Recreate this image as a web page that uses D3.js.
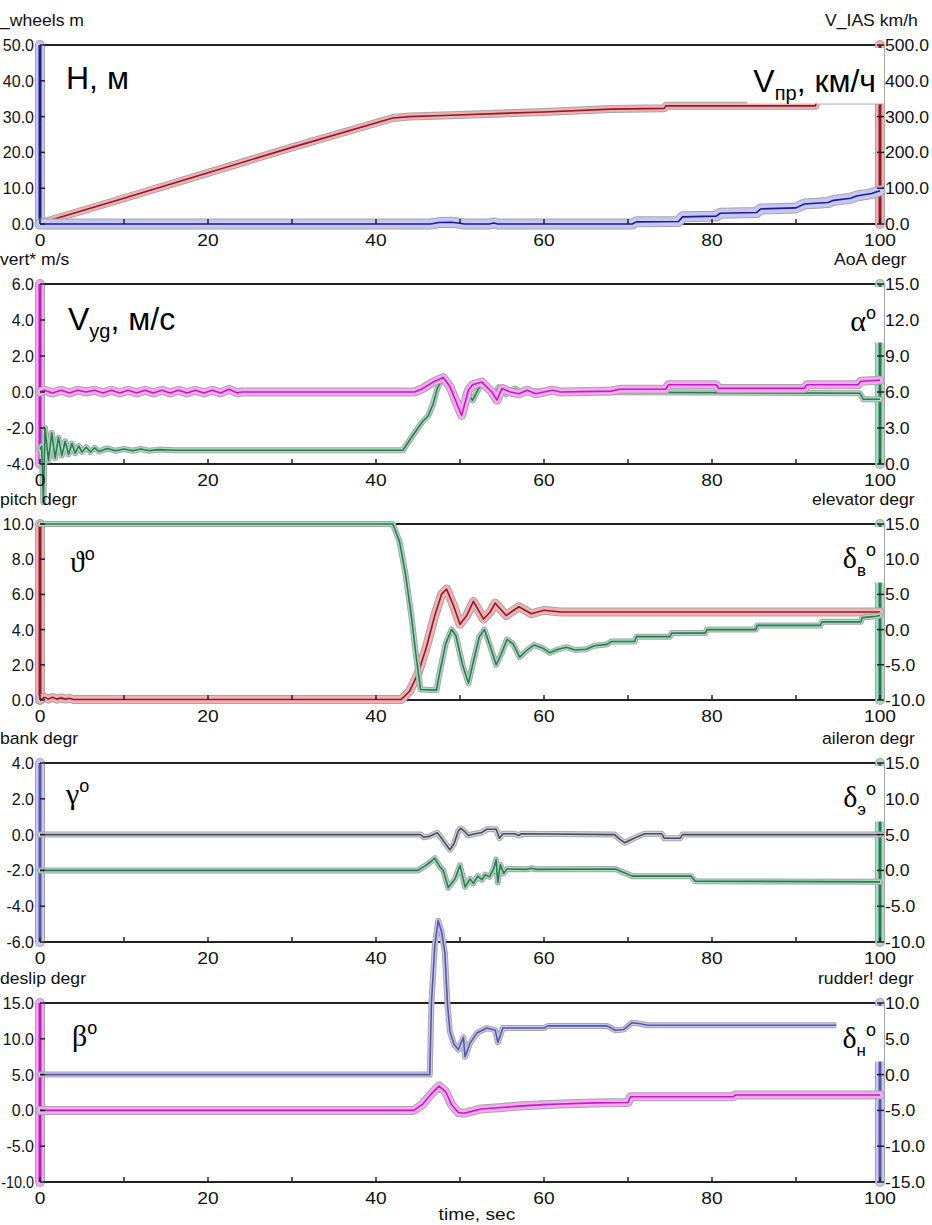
<!DOCTYPE html>
<html>
<head>
<meta charset="utf-8">
<style>
  body { margin: 0; background: #fff; }
  svg { display: block; overflow: hidden; }
  .tk { font-family: Arial, 'Liberation Sans', sans-serif; font-size: 16px; fill: #111; }
  .sans { font-family: Arial, 'Liberation Sans', sans-serif; font-size: 32px; fill: #000; }
  .serif { font-family: 'Liberation Serif', 'DejaVu Serif', serif; font-size: 30px; fill: #000; }
</style>
</head>
<body>
<svg width="932" height="1225"></svg>

<script src="https://d3js.org/d3.v7.min.js"></script>
<script>
// ---- time axis
const timeTicks = [0, 10, 20, 30, 40, 50, 60, 70, 80, 90, 100];
const timeLabels = [0, 20, 40, 60, 80, 100];

// ---- panel 1: H_wheels (m, left) and V_IAS (km/h, right)
const hTicks = [0, 10, 20, 30, 40, 50];
const vIasTicks = [0, 100, 200, 300, 400, 500];
const hWheels = [[0,0],[46.5,0],[47.5,0.4],[49,0.5],[50,0.2],[50.5,0],[53.5,0],[54,0.3],[54.5,0],[70.5,0],[71,0.6],[76,0.7],[76.5,2.0],[80.5,2.2],[81,3.0],[85.3,3.2],[85.8,4.2],[90,4.5],[91,5.6],[93.8,6.0],[94.5,6.6],[96.5,7.2],[97.2,7.8],[99,8.5],[100,9.3]];
const vIas = [[0,2],[10,72],[20,143],[30,214],[42,296],[44,300],[48,303],[55,309],[60,313],[68,321],[74.3,323],[74.5,330],[92.3,330],[92.5,345],[100,345]];

// ---- panel 2: vertical speed (m/s, left) and AoA (deg, right)
const vyTicks = [-4, -2, 0, 2, 4, 6];
const aoaTicks = [0, 3, 6, 9, 12, 15];
const vertSpeed = [[0,0],[0.5,0.1],[1.5,-0.05],[2.5,0.1],[3.5,-0.05],[4.5,0.1],[5.5,0],[6.5,0.1],[7.5,-0.05],[8.5,0.1],[9.5,-0.05],[10.5,0.1],[11.5,-0.05],[12.5,0.1],[13.5,-0.05],[14.5,0.1],[15.5,-0.05],[16.5,0.1],[17.5,-0.05],[18.5,0.1],[19.5,-0.05],[20.5,0.1],[21.5,-0.05],[22.5,0.15],[23.5,-0.05],[24,0],[44.6,0],[45.6,0.2],[46.8,0.55],[48,0.8],[48.8,0.3],[49.5,-0.5],[50.2,-1.3],[51,0.1],[51.5,0.4],[52.6,0.55],[53.8,0],[54.4,-0.45],[55,0.2],[56,0.0],[57,-0.1],[58,0.1],[59,-0.1],[60,0.0],[61,0.1],[62,0.0],[68,0.05],[69,0.15],[74.5,0.15],[74.8,0.4],[80.5,0.4],[80.8,0.2],[91,0.2],[91.3,0.4],[97.4,0.4],[97.7,0.6],[100,0.65]];
const aoa = [[0,1.2],[0.2,1.5],[0.4,-3.2],[0.6,3.0],[1.0,0.3],[1.4,2.6],[1.8,0.5],[2.2,2.2],[2.6,0.7],[3.0,1.9],[3.4,0.8],[3.8,1.7],[4.2,0.9],[4.6,1.5],[5.0,1.0],[5.5,1.4],[6,1.0],[6.5,1.35],[7,1.05],[8,1.3],[9,1.1],[10,1.25],[11,1.1],[12,1.25],[13,1.1],[14,1.2],[16,1.15],[43.2,1.15],[44.5,2.5],[45.5,3.5],[46.2,4.0],[46.8,5.0],[47.3,6.3],[48,7.2],[48.6,6.8],[49.3,5.5],[50.4,4.7],[51,5.8],[51.5,5.3],[52.6,6.8],[53.3,6.4],[54,5.7],[54.6,6.4],[55.5,5.8],[56.5,6.3],[57.5,5.9],[58.5,6.1],[60,6.0],[97.6,5.9],[98,5.4],[100,5.4]];

// ---- panel 3: pitch (deg, left) and elevator (deg, right)
const pitchTicks = [0, 2, 4, 6, 8, 10];
const elevTicks = [-10, -5, 0, 5, 10, 15];
const pitch = [[0,0],[0.5,0.15],[1,0.05],[1.5,0.15],[2,0.05],[2.5,0.12],[3,0.05],[3.5,0.1],[4,0.03],[43,0.03],[44,0.5],[45,1.5],[46,3.0],[47,4.8],[47.8,6.0],[48.4,6.3],[49.2,5.4],[50,4.3],[50.8,4.8],[51.6,5.6],[52.8,4.6],[53.6,5.0],[54.2,5.5],[55.5,4.8],[57,5.3],[58.5,4.9],[60,5.1],[62,5.0],[100,5.0]];
const elevator = [[0,15],[42,15],[42.8,12.5],[43.5,8],[44.2,2],[44.8,-4],[45.3,-8.5],[47.2,-8.6],[47.6,-6],[48.3,-2],[49,0],[49.5,-0.8],[50.3,-5],[51,-7.6],[51.6,-4.5],[52.3,-1],[52.9,0],[53.5,-2],[54.3,-5],[54.9,-3.5],[55.6,-1.4],[56.3,-2],[57.1,-3.9],[57.9,-3],[58.8,-2.2],[59.8,-2.6],[60.7,-3.3],[61.7,-2.8],[62.7,-2.5],[63.7,-2.9],[65,-2.8],[66,-2.3],[67.5,-2.1],[68,-1.7],[70.8,-1.7],[71,-1.0],[75,-1.0],[75.2,-0.5],[79.2,-0.5],[79.4,0.0],[85.2,0.0],[85.4,0.6],[92.9,0.6],[93.1,1.1],[97.7,1.1],[97.9,1.7],[99.5,1.9],[100,2.0]];

// ---- panel 4: bank (deg, left) and aileron (deg, right)
const bankTicks = [-6, -4, -2, 0, 2, 4];
const aileronTicks = [-10, -5, 0, 5, 10, 15];
const bank = [[0,0],[45.3,0],[45.7,-0.15],[46.3,-0.1],[47.3,0.1],[47.8,-0.2],[48.4,-0.6],[48.8,-0.85],[49.3,-0.5],[49.8,0.2],[50.1,0.35],[50.5,0.2],[51,-0.05],[51.8,0.05],[52.5,0.1],[53.2,0.3],[54.3,0.3],[54.7,-0.2],[55.1,0.05],[56.5,0.05],[57,-0.05],[57.3,0.05],[68.4,0.0],[69,-0.25],[69.6,-0.45],[70.3,-0.3],[71.2,-0.1],[72,0.05],[74,0.05],[74.3,-0.2],[76.2,-0.2],[76.5,0.0],[100,0.0]];
const aileron = [[0,0],[45,0],[45.8,0.6],[46.4,1.1],[47,1.7],[47.6,0.5],[48,0.0],[48.6,-2.4],[49.4,-1.2],[50,0.7],[50.6,-2.3],[51.2,-1.2],[51.6,-1.8],[52.1,-0.8],[52.6,-1.3],[53,-0.6],[53.5,-0.9],[54,0.2],[54.3,1.5],[54.5,-1.7],[54.8,0.8],[55.2,-0.4],[55.6,0.2],[58,0.15],[58.5,0.3],[59,0.15],[68.5,0.2],[70.5,-0.8],[77.5,-0.8],[78,-1.5],[100,-1.6]];

// ---- panel 5: sideslip (deg, left) and rudder (deg, right)
const slipTicks = [-10, -5, 0, 5, 10, 15];
const rudderTicks = [-15, -10, -5, 0, 5, 10];
const sideslip = [[0,0],[44.5,0],[45.5,0.8],[46.5,2.2],[47.5,3.4],[48.3,2.6],[49,0.8],[49.8,-0.3],[50.5,-0.4],[51.5,-0.1],[52.5,0.2],[55,0.4],[57,0.6],[60,0.8],[62,0.9],[66,1.05],[70,1.1],[70.3,1.9],[82.5,1.9],[82.8,2.15],[100,2.15]];
const rudder = [[0,0],[46.4,0],[46.6,10],[47.0,18],[47.4,21.5],[47.8,20],[48.2,17],[48.5,10],[48.8,6],[49.3,4.2],[49.8,3.5],[50.4,5.2],[50.6,2.5],[51.2,4.4],[52,5.8],[53.2,6.5],[54.2,6.2],[54.5,4.5],[55.1,6.5],[60,6.5],[60.5,6.8],[67.5,6.8],[68.5,6.2],[69.5,6.3],[70.5,7.25],[71.5,7.1],[72.3,6.9],[100,6.9]];

const colors = {
  blue:    { dark: "#1c1c8a", light: "#c6c6f4" },
  red:     { dark: "#8c1c28", light: "#f2b0b4" },
  magenta: { dark: "#c41cc4", light: "#f4a8f0" },
  green:   { dark: "#2c7a54", light: "#a8dcc0" },
  slate:   { dark: "#4a4a5e", light: "#d4d4e0" },
  lav:     { dark: "#5656a6", light: "#c8c8f4" }
};

const panels = [
  { top: 45, bottom: 224, leftTicks: hTicks, rightTicks: vIasTicks, leftCol: "blue", rightCol: "red",
    leftTitle: "_wheels m", leftTitleX: 0, rightTitle: "V_IAS km/h", rightTitleX: 825,
    series: [ { data: vIas, axis: "right", col: "red", halo: 6 }, { data: hWheels, axis: "left", col: "blue", halo: 9 } ],
    leftLabel: { cls: "sans", x: 66, dy: 44, parts: [["H, м", "m"]] },
    rightLabel: { cls: "sans", dy: 47, parts: [["V", "m"], ["пр", "sub"], [", км/ч", "m"]] } },
  { top: 284, bottom: 464, leftTicks: vyTicks, rightTicks: aoaTicks, leftCol: "magenta", rightCol: "green",
    leftTitle: "vert* m/s", leftTitleX: 0, rightTitle: "AoA degr", rightTitleX: 834,
    series: [ { data: aoa, axis: "right", col: "green", halo: 4 }, { data: vertSpeed, axis: "left", col: "magenta", halo: 7 } ],
    leftLabel: { cls: "sans", x: 68, dy: 46, parts: [["V", "m"], ["yg", "sub"], [", м/с", "m"]] },
    rightLabel: { cls: "serif", dy: 47, parts: [["α", "m"], ["o", "sup"]] } },
  { top: 524, bottom: 700, leftTicks: pitchTicks, rightTicks: elevTicks, leftCol: "red", rightCol: "green",
    leftTitle: "pitch degr", leftTitleX: 0, rightTitle: "elevator degr", rightTitleX: 812,
    series: [ { data: pitch, axis: "left", col: "red", halo: 7 }, { data: elevator, axis: "right", col: "green", halo: 4 } ],
    leftLabel: { cls: "serif", x: 70, dy: 48, parts: [["ϑ", "m"], ["o", "sup"]] },
    rightLabel: { cls: "serif", dy: 44, parts: [["δ", "m"], ["в", "sub"], ["o", "sup"]] } },
  { top: 763, bottom: 942, leftTicks: bankTicks, rightTicks: aileronTicks, leftCol: "lav", rightCol: "green",
    leftTitle: "bank degr", leftTitleX: 0, rightTitle: "aileron degr", rightTitleX: 822,
    series: [ { data: aileron, axis: "right", col: "green", halo: 4 }, { data: bank, axis: "left", col: "slate", halo: 4 } ],
    leftLabel: { cls: "serif", x: 66, dy: 41, parts: [["γ", "m"], ["o", "sup"]] },
    rightLabel: { cls: "serif", dy: 44, parts: [["δ", "m"], ["э", "sub"], ["o", "sup"]] } },
  { top: 1003, bottom: 1182, leftTicks: slipTicks, rightTicks: rudderTicks, leftCol: "magenta", rightCol: "lav",
    leftTitle: "deslip degr", leftTitleX: 0, rightTitle: "rudder! degr", rightTitleX: 818,
    series: [ { data: sideslip, axis: "left", col: "magenta", halo: 7 }, { data: rudder, axis: "right", col: "lav", halo: 4 } ],
    leftLabel: { cls: "serif", x: 72, dy: 43, parts: [["β", "m"], ["o", "sup"]] },
    rightLabel: { cls: "serif", dy: 45, parts: [["δ", "m"], ["н", "sub"], ["o", "sup"]] } }
];

const svg = d3.select("svg");
const x = d3.scaleLinear().domain([0, 100]).range([40, 880]);
const fmt = v => v.toFixed(1);

// light halo line with grey rim and dark core, like the recorder plots
function glow(g, d, c, w, core) {
  g.append("path").attr("d", d).attr("fill", "none").attr("stroke", "#a6a6a6")
    .attr("stroke-width", w + 2).attr("stroke-linejoin", "round").attr("stroke-linecap", "round");
  g.append("path").attr("d", d).attr("fill", "none").attr("stroke", c.light)
    .attr("stroke-width", w).attr("stroke-linejoin", "round").attr("stroke-linecap", "round");
  g.append("path").attr("d", d).attr("fill", "none").attr("stroke", c.dark)
    .attr("stroke-width", core || 1.6).attr("stroke-linejoin", "round");
}

function wideText(g, str, tx, ty, anchor, sx) {
  return g.append("text").attr("class", "tk")
    .attr("transform", `translate(${tx},${ty}) scale(${sx || 1.2},1)`)
    .attr("text-anchor", anchor || "start")
    .text(str);
}

function richLabel(g, spec, xPos, y, anchor) {
  const t = g.append("text").attr("class", spec.cls).attr("x", xPos).attr("y", y)
    .attr("text-anchor", anchor);
  let shift = 0;
  spec.parts.forEach(([s, role]) => {
    const sp = t.append("tspan").text(s);
    let target = 0;
    if (role === "sub") {
      target = 8;
      sp.style("font-family", "Arial, 'Liberation Sans', sans-serif").style("font-size", spec.cls === "sans" ? "20px" : "17px");
    } else if (role === "sup") {
      target = -12;
      sp.style("font-family", "Arial, 'Liberation Sans', sans-serif").style("font-size", "18px");
    }
    sp.attr("dy", target - shift);
    shift = target;
  });
  return t;
}

panels.forEach(p => {
  const g = svg.append("g");
  const yL = d3.scaleLinear().domain(d3.extent(p.leftTicks)).range([p.bottom, p.top]);
  const yR = d3.scaleLinear().domain(d3.extent(p.rightTicks)).range([p.bottom, p.top]);
  const x0 = x(0), x1 = x(100);

  // frame
  g.append("line").attr("x1", x0).attr("x2", x1).attr("y1", p.top).attr("y2", p.top)
    .attr("stroke", "#222").attr("stroke-width", 2);
  g.append("line").attr("x1", x0).attr("x2", x1).attr("y1", p.bottom).attr("y2", p.bottom)
    .attr("stroke", "#222").attr("stroke-width", 2);

  // coloured axis bars
  glow(g, `M${x0},${p.top}V${p.bottom}`, colors[p.leftCol], 8, 3);
  glow(g, `M${x1},${p.top}V${p.bottom}`, colors[p.rightCol], 8, 3);

  // series
  p.series.forEach(s => {
    const ys = s.axis === "left" ? yL : yR;
    const ln = d3.line().x(d => x(d[0])).y(d => ys(d[1]));
    glow(g, ln(s.data), colors[s.col], s.halo, 1.6);
  });

  // ticks
  timeTicks.forEach(t => {
    g.append("line").attr("x1", x(t)).attr("x2", x(t)).attr("y1", p.bottom).attr("y2", p.bottom - 5)
      .attr("stroke", "#222").attr("stroke-width", 1.5);
  });
  p.leftTicks.forEach(v => {
    g.append("line").attr("x1", x0).attr("x2", x0 + 5).attr("y1", yL(v)).attr("y2", yL(v))
      .attr("stroke", "#222").attr("stroke-width", 1.5);
  });
  p.rightTicks.forEach(v => {
    g.append("line").attr("x1", x1 - 3).attr("x2", x1 + 4).attr("y1", yR(v)).attr("y2", yR(v))
      .attr("stroke", "#222").attr("stroke-width", 1.5);
  });

  // overlay labels on white boxes
  const ov = svg.append("g");
  const lbox = ov.append("rect").attr("fill", "#fff");
  const ll = richLabel(ov, p.leftLabel, p.leftLabel.x, p.top + p.leftLabel.dy, "start");
  const lb = ll.node().getBBox();
  lbox.attr("x", lb.x - 4).attr("y", p.top + 4).attr("width", lb.width + 8).attr("height", 54);

  const rbox = ov.append("rect").attr("fill", "#fff");
  const rl = richLabel(ov, p.rightLabel, x1 - 4, p.top + p.rightLabel.dy, "end");
  const rb = rl.node().getBBox();
  rbox.attr("x", rb.x - 6).attr("y", p.top + 3).attr("width", x1 + 4 - (rb.x - 6)).attr("height", 55.5);

  // tick labels and titles
  const tg = svg.append("g");
  timeLabels.forEach(t => wideText(tg, String(t), x(t), p.bottom + 22, "middle"));
  p.leftTicks.forEach(v => wideText(tg, fmt(v), 34, yL(v) + 6, "end", v <= -10 ? 0.9 : 1.0));
  p.rightTicks.forEach(v => wideText(tg, fmt(v), x1 + 5, yR(v) + 6, "start", 1.1));
  wideText(tg, p.leftTitle, p.leftTitleX, p.top - 19, "start", 1.1);
  wideText(tg, p.rightTitle, p.rightTitleX, p.top - 19, "start", 1.1);
});

wideText(svg, "time, sec", 477, 1220, "middle");
</script>
</body>
</html>
